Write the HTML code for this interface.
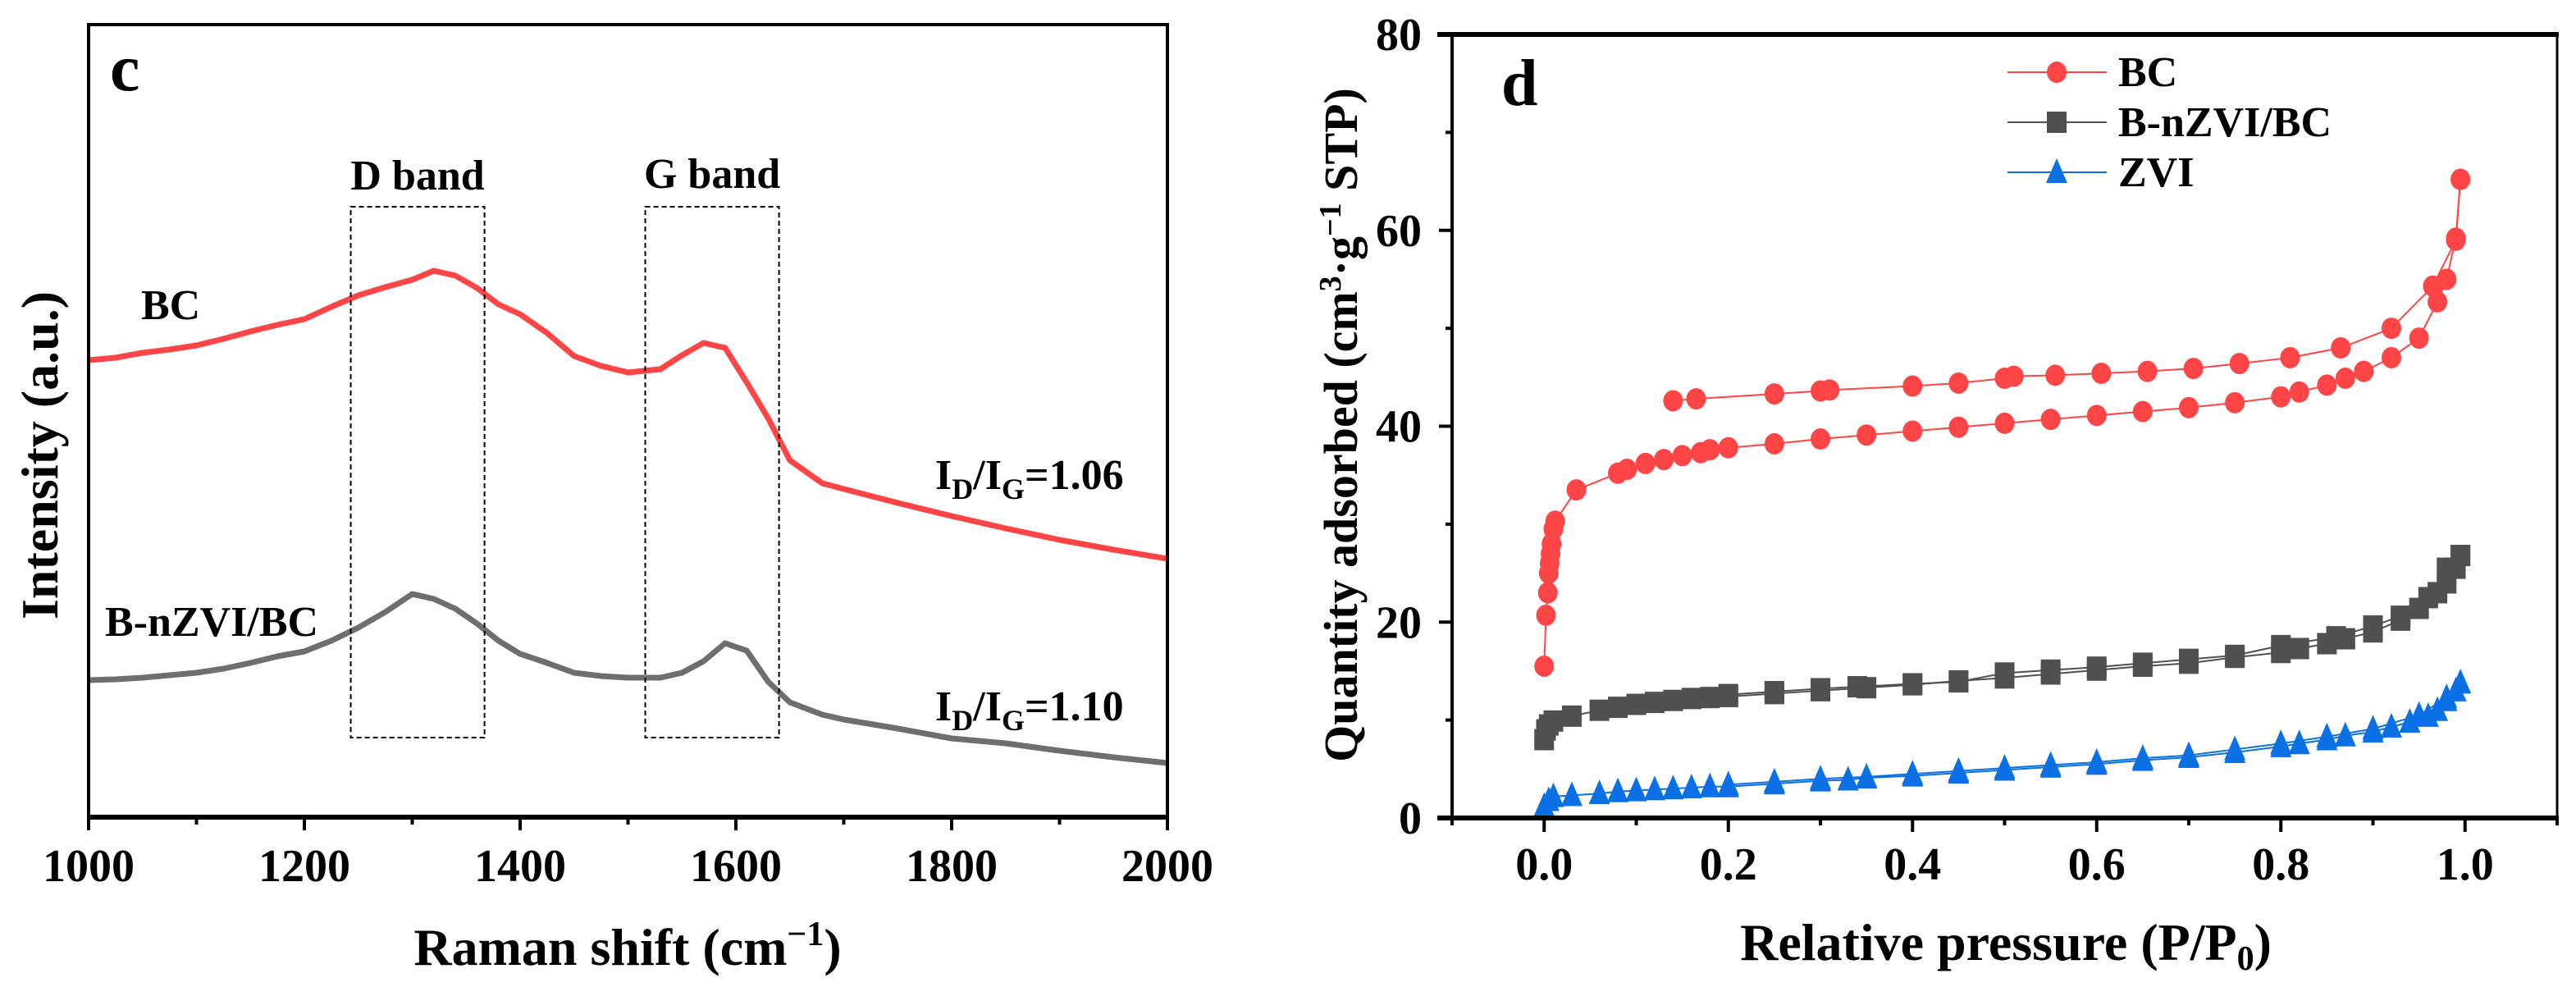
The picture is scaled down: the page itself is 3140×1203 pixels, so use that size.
<!DOCTYPE html>
<html><head><meta charset="utf-8">
<style>
body{margin:0;background:#fff;}
svg{display:block;font-family:"Liberation Serif",serif;font-weight:bold;}
</style></head>
<body>
<svg id="fig" width="3140" height="1203" viewBox="0 0 3140 1203" xmlns="http://www.w3.org/2000/svg">
<g id="left"></g>
<g id="right"></g>
</svg>
<script>
// ---- Raman data (panel c) ----
const ramanShift = [1000,1025,1050,1075,1100,1125,1150,1175,1200,1225,1250,1275,1300,1320,1340,1360,1380,1400,1425,1450,1475,1500,1530,1550,1570,1590,1610,1630,1650,1680,1700,1750,1800,1850,1900,1950,2000];
const bcIntensity = [557,560,566,570,575,583,592,600,607,622,636,646,655,666,660,645,625,613,590,562,550,542,546,563,578,572,530,486,435,407,400,383,367,352,338,326,315];
const bnzviIntensity = [167,168,170,173,176,181,188,196,202,215,231,250,272,266,254,236,215,199,188,176,172,170,170,176,190,212,203,165,140,125,119,108,96,90,81,73,66];
const ramanTicks = [1000,1200,1400,1600,1800,2000];
const dBand = [1243,1367];
const gBand = [1516,1640];

// ---- BET data (panel d) ----
const bcAdsP = [0.0,0.002,0.004,0.005,0.006,0.007,0.008,0.01,0.012,0.035,0.08,0.09,0.11,0.13,0.15,0.17,0.18,0.2,0.25,0.3,0.35,0.4,0.45,0.5,0.55,0.6,0.65,0.7,0.75,0.8,0.82,0.85,0.87,0.89,0.92,0.95,0.97,0.98,0.99,0.995];
const bcAdsV = [15.5,20.7,23,25,26,27,28,29.5,30.3,33.5,35.2,35.6,36.2,36.6,37,37.3,37.6,37.8,38.2,38.7,39.1,39.5,39.9,40.3,40.7,41.1,41.5,41.9,42.4,43,43.5,44.2,44.9,45.6,47,49,52.7,55,59.2,65.2];
const bcDesP = [0.995,0.99,0.965,0.92,0.865,0.81,0.755,0.705,0.655,0.605,0.555,0.51,0.5,0.45,0.4,0.31,0.3,0.25,0.165,0.14];
const bcDesV = [65.2,59,54.3,50,48,47,46.4,45.9,45.6,45.4,45.2,45.1,44.9,44.4,44.1,43.7,43.6,43.3,42.8,42.6];
const bnAdsP = [0,0.002,0.005,0.01,0.03,0.06,0.08,0.1,0.12,0.14,0.16,0.18,0.2,0.25,0.3,0.35,0.4,0.45,0.5,0.55,0.6,0.65,0.7,0.75,0.8,0.82,0.85,0.87,0.9,0.93,0.95,0.97,0.98,0.99,0.995];
const bnAdsV = [8,9,9.5,9.9,10.4,11,11.3,11.6,11.8,12,12.2,12.3,12.4,12.7,13,13.3,13.6,14,14.3,14.7,15.1,15.5,15.8,16.4,16.9,17.3,17.8,18.3,19,20.2,21.4,23,24,25.5,26.8];
const bnDesP = [0.995,0.98,0.96,0.93,0.9,0.86,0.8,0.75,0.7,0.65,0.6,0.55,0.5,0.45,0.4,0.34,0.3,0.25,0.2];
const bnDesV = [26.8,25.5,22.5,20.6,19.6,18.5,17.6,16.6,16.2,15.8,15.4,15.1,14.8,13.9,13.7,13.4,13.2,12.9,12.6];
const zviAdsP = [0,0.005,0.01,0.03,0.06,0.08,0.1,0.12,0.14,0.16,0.18,0.2,0.25,0.3,0.33,0.35,0.4,0.45,0.5,0.55,0.6,0.65,0.7,0.75,0.8,0.82,0.85,0.87,0.9,0.92,0.94,0.96,0.97,0.98,0.99,0.995];
const zviAdsV = [1.2,1.8,2.2,2.3,2.5,2.7,2.8,2.9,3.0,3.1,3.2,3.2,3.5,3.8,3.9,4.1,4.3,4.6,4.9,5.2,5.5,5.9,6.2,6.7,7.3,7.6,8.0,8.4,8.8,9.3,9.8,10.4,11,12,13,13.8];
const zviDesP = [0.995,0.98,0.95,0.9,0.85,0.8,0.75,0.7,0.65,0.6,0.55,0.5,0.45,0.4,0.35,0.3,0.25,0.2];
const zviDesV = [13.8,12.3,10.5,9.1,8.3,7.6,7.0,6.4,6.1,5.7,5.4,5.1,4.8,4.5,4.2,4.0,3.7,3.4];
const pTicks = [0.0,0.2,0.4,0.6,0.8,1.0];
const vTicks = [0,20,40,60,80];

const NS="http://www.w3.org/2000/svg";
function mk(parent,tag,attrs,text){const e=document.createElementNS(NS,tag);for(const k in attrs)e.setAttribute(k,attrs[k]);if(text!==undefined)e.textContent=text;parent.appendChild(e);return e;}

// ===== Panel c =====
const L=document.getElementById('left');
const lx0=108,lx1=1423,ly0=30,ly1=996;
const xr=v=>lx0+(v-1000)*(lx1-lx0)/1000;
const yr=v=>996-v;
function linePath(xs,ys){return xs.map((x,i)=>(i?'L':'M')+xr(x)+','+yr(ys[i])).join(' ');}
let e=mk(L,'path',{d:linePath(ramanShift,bcIntensity),fill:'none',stroke:'#ff4545','stroke-width':7,'stroke-linejoin':'round'});

e=mk(L,'path',{d:linePath(ramanShift,bnzviIntensity),fill:'none',stroke:'#6e6e6e','stroke-width':7,'stroke-linejoin':'round'});

e=mk(L,'rect',{x:xr(dBand[0]),y:252,width:xr(dBand[1])-xr(dBand[0]),height:647,fill:'none',stroke:'#000','stroke-width':2,'stroke-dasharray':'6,4'});

e=mk(L,'rect',{x:xr(gBand[0]),y:252,width:xr(gBand[1])-xr(gBand[0]),height:647,fill:'none',stroke:'#000','stroke-width':2,'stroke-dasharray':'6,4'});

e=mk(L,'text',{x:(xr(dBand[0])+xr(dBand[1]))/2,y:231,'font-size':52,'text-anchor':'middle'},'D band');

e=mk(L,'text',{x:(xr(gBand[0])+xr(gBand[1]))/2,y:229,'font-size':52,'text-anchor':'middle'},'G band');

e=mk(L,'rect',{x:lx0,y:ly0,width:lx1-lx0,height:ly1-ly0,fill:'none',stroke:'#000','stroke-width':4});

mk(L,'line',{x1:lx0-2,y1:ly1,x2:lx1+2,y2:ly1,stroke:'#000','stroke-width':6});
for(let v=1000;v<=2000;v+=100){const maj=ramanTicks.includes(v);mk(L,'line',{x1:xr(v),y1:ly1,x2:xr(v),y2:ly1+(maj?16:9),stroke:'#000','stroke-width':4});}
ramanTicks.forEach(v=>{const t=mk(L,'text',{x:xr(v),y:1074,'font-size':56,'text-anchor':'middle'},v);
});
e=mk(L,'text',{x:765,y:1176,'font-size':64,'text-anchor':'middle'});
e.innerHTML='Raman shift (cm<tspan dy="-24" font-size="42">−1</tspan><tspan dy="24">)</tspan>';

e=mk(L,'text',{x:0,y:0,'font-size':64,'text-anchor':'middle',transform:'translate(70,555) rotate(-90)'},'Intensity (a.u.)');

e=mk(L,'text',{x:134,y:110,'font-size':82},'c');

e=mk(L,'text',{x:172,y:389,'font-size':52},'BC');

e=mk(L,'text',{x:128,y:775,'font-size':52},'B-nZVI/BC');

e=mk(L,'text',{x:1140,y:596,'font-size':52});
e.innerHTML='I<tspan dy="12" font-size="36">D</tspan><tspan dy="-12">/I</tspan><tspan dy="12" font-size="36">G</tspan><tspan dy="-12">=1.06</tspan>';

e=mk(L,'text',{x:1140,y:878,'font-size':52});
e.innerHTML='I<tspan dy="12" font-size="36">D</tspan><tspan dy="-12">/I</tspan><tspan dy="12" font-size="36">G</tspan><tspan dy="-12">=1.10</tspan>';


// ===== Panel d =====
const R=document.getElementById('right');
const rx0=1770,rx1=3117,ry0=42,ry1=997;
const px=p=>rx0+(p+0.1)*(rx1-rx0)/1.2;
const py=v=>ry1-v*(ry1-ry0)/80;
function series(P,V,color,shape,name){
  const g=mk(R,'g',{});
  
  mk(g,'polyline',{points:P.map((p,i)=>px(p)+','+py(V[i])).join(' '),fill:'none',stroke:color,'stroke-width':2});
  P.forEach((p,i)=>drawMarker(g,px(p),py(V[i]),color,shape));
}
function drawMarker(g,X,Y,color,shape){
  if(shape==='c')mk(g,'ellipse',{cx:X,cy:Y,rx:12,ry:13,fill:color});
  else if(shape==='s')mk(g,'rect',{x:X-12,y:Y-13,width:24,height:26,fill:color});
  else mk(g,'polygon',{points:`${X},${Y-17} ${X-13},${Y+13} ${X+13},${Y+13}`,fill:color});
}
series(zviAdsP,zviAdsV,'#0b6fe6','t','zvi-adsorption');
series(zviDesP,zviDesV,'#0b6fe6','t','zvi-desorption');
series(bnAdsP,bnAdsV,'#505050','s','bnzvi-adsorption');
series(bnDesP,bnDesV,'#505050','s','bnzvi-desorption');
series(bcAdsP,bcAdsV,'#ff4545','c','bc-adsorption');
series(bcDesP,bcDesV,'#ff4545','c','bc-desorption');
mk(R,'line',{x1:rx0,y1:ry0,x2:rx0,y2:ry1,stroke:'#000','stroke-width':4});
mk(R,'line',{x1:rx1,y1:ry0,x2:rx1,y2:ry1,stroke:'#000','stroke-width':3});
mk(R,'line',{x1:rx0-18,y1:ry0,x2:rx1+2,y2:ry0,stroke:'#000','stroke-width':6});
mk(R,'line',{x1:rx0-18,y1:ry1,x2:rx1+2,y2:ry1,stroke:'#000','stroke-width':6});
for(let v=0;v<=80;v+=10){const maj=vTicks.includes(v);mk(R,'line',{x1:rx0,y1:py(v),x2:rx0-(maj?16:8),y2:py(v),stroke:'#000','stroke-width':4});}
for(let k=-1;k<=11;k++){const p=k/10;const maj=(k%2===0&&k>=0);mk(R,'line',{x1:px(p),y1:ry1,x2:px(p),y2:ry1+(maj?17:9),stroke:'#000','stroke-width':4});}
vTicks.forEach(v=>{const t=mk(R,'text',{x:1733,y:py(v)+19,'font-size':56,'text-anchor':'end'},v);
});
pTicks.forEach(p=>{const t=mk(R,'text',{x:px(p),y:1072,'font-size':56,'text-anchor':'middle'},p.toFixed(1));
});
e=mk(R,'text',{x:2445,y:1170,'font-size':64,'text-anchor':'middle'});
e.innerHTML='Relative pressure (P/P<tspan dy="12" font-size="42">0</tspan><tspan dy="-12">)</tspan>';

e=mk(R,'text',{x:0,y:0,'font-size':58,'text-anchor':'middle',transform:'translate(1654,518) rotate(-90)'});
e.innerHTML='Quantity adsorbed (cm<tspan dy="-20" font-size="38">3</tspan><tspan dy="20">·g</tspan><tspan dy="-20" font-size="38">−1</tspan><tspan dy="20"> STP)</tspan>';

e=mk(R,'text',{x:1830,y:128,'font-size':80},'d');

const legNames=['BC','B-nZVI/BC','ZVI'],legCols=['#ff4545','#505050','#0b6fe6'],legShape=['c','s','t'],legY=[88,149,210];
legNames.forEach((n,i)=>{
  const g=mk(R,'g',{});
  
  mk(g,'line',{x1:2447,y1:legY[i],x2:2568,y2:legY[i],stroke:legCols[i],'stroke-width':2});
  drawMarker(g,2507,legY[i],legCols[i],legShape[i]);
  mk(g,'text',{x:2582,y:legY[i]+17,'font-size':52},n);
});
</script>
</body></html>
